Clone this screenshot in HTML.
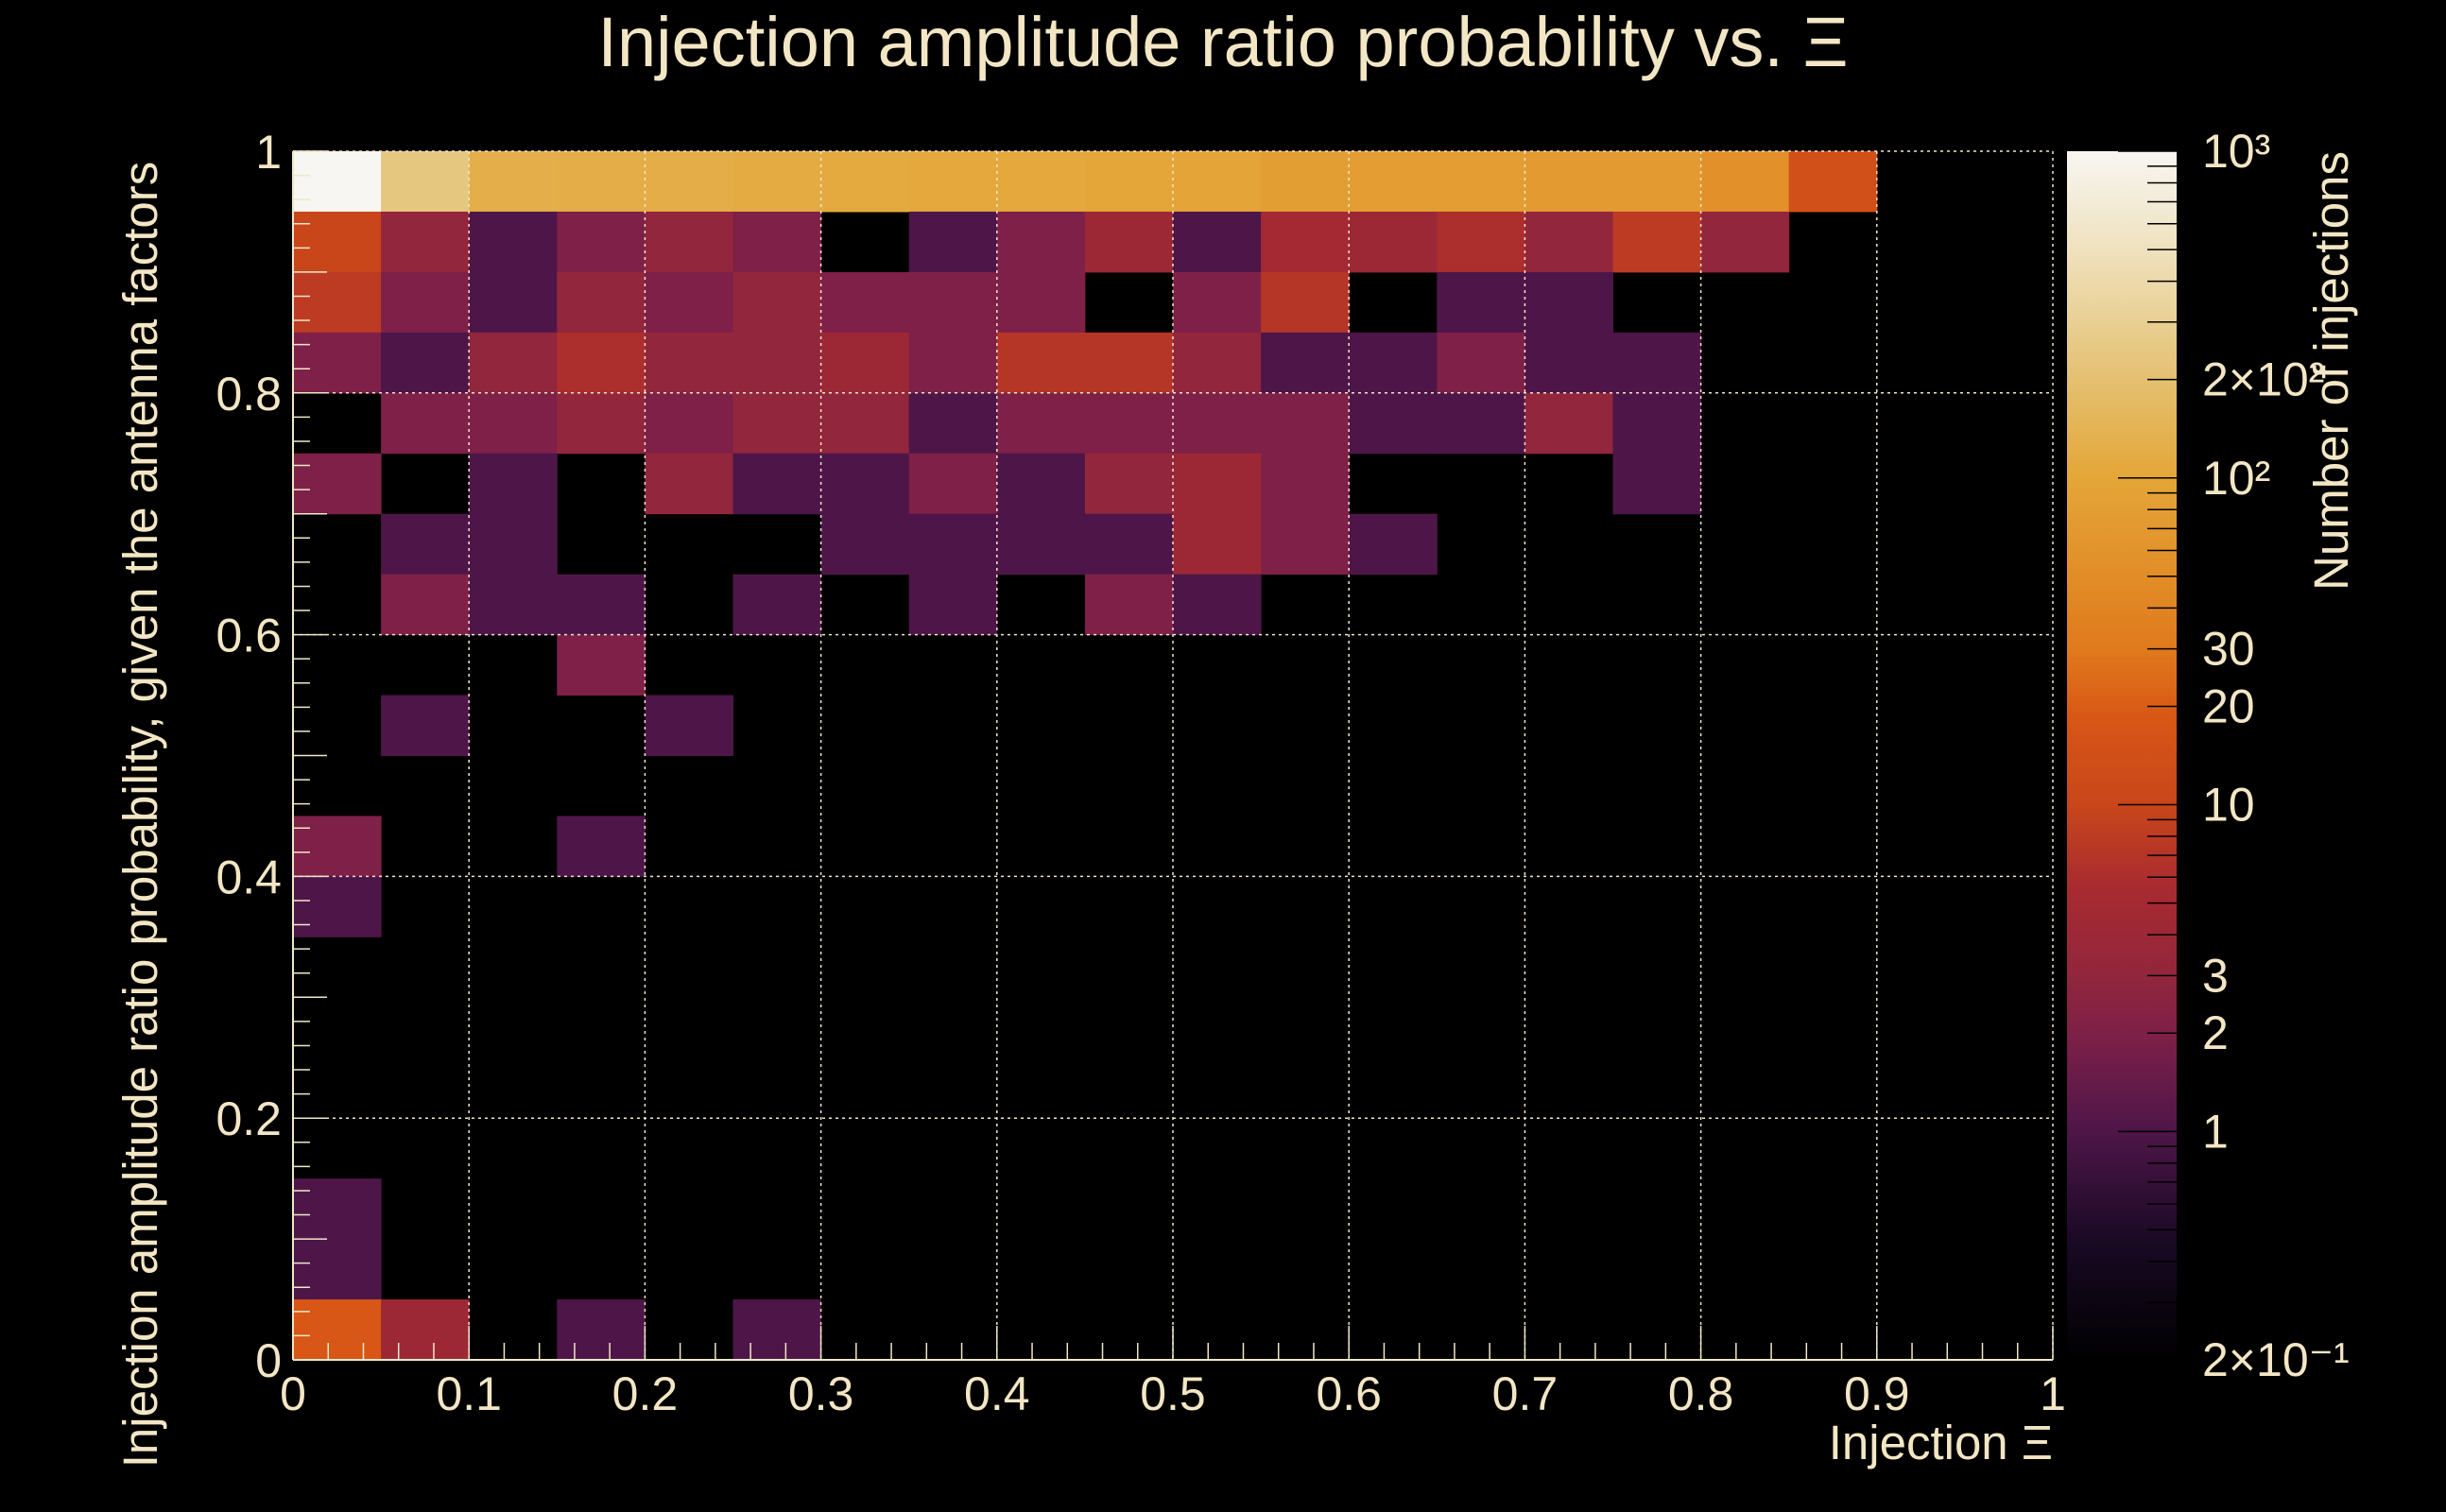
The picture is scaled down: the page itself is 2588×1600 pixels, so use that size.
<!DOCTYPE html>
<html><head><meta charset="utf-8"><style>
html,body{margin:0;padding:0;background:#000;}
svg{display:block;font-family:"Liberation Sans",sans-serif;}
</style></head><body>
<svg id="chart" width="2588" height="1600" xmlns="http://www.w3.org/2000/svg">
<rect width="2588" height="1600" fill="#000"/>
<text x="1294" y="70" text-anchor="middle" font-size="74" fill="#f3e6c4">Injection amplitude ratio probability vs.  Ξ</text>
<text transform="translate(166,862) rotate(-90)" text-anchor="middle" font-size="51" fill="#f3e6c4">Injection amplitude ratio probability, given the antenna factors</text>
<text x="2172" y="1544" text-anchor="end" font-size="51" fill="#f3e6c4">Injection Ξ</text>
<text transform="translate(2484,160) rotate(-90)" text-anchor="end" font-size="51" fill="#f3e6c4">Number of injections</text>
<g id="cells"></g>
<g id="grid"></g>
<g id="axes"></g>
<g id="cbar"></g>
</svg>
<script>
// rows listed from top (y 0.95-1.00) down to bottom (0.00-0.05); 20 columns of 0.05 in x
const rowsTopDown = [
 [1000,240,125,120,120,115,110,105,105,100,95,80,78,78,75,72,55,14,0,0],
 [10,3,1,2,3,2,0,1,2,4,1,5,4,6,3,8,3,0,0,0],
 [8,2,1,3,2,3,2,2,2,0,2,7,0,1,1,0,0,0,0,0],
 [2,1,3,6,3,3,4,2,7,7,3,1,1,2,1,1,0,0,0,0],
 [0,2,2,3,2,3,3,1,2,2,2,2,1,1,3,1,0,0,0,0],
 [2,0,1,0,3,1,1,2,1,3,4,2,0,0,0,1,0,0,0,0],
 [0,1,1,0,0,0,1,1,1,1,4,2,1,0,0,0,0,0,0,0],
 [0,2,1,1,0,1,0,1,0,2,1,0,0,0,0,0,0,0,0,0],
 [0,0,0,2,0,0,0,0,0,0,0,0,0,0,0,0,0,0,0,0],
 [0,1,0,0,1,0,0,0,0,0,0,0,0,0,0,0,0,0,0,0],
 [0,0,0,0,0,0,0,0,0,0,0,0,0,0,0,0,0,0,0,0],
 [2,0,0,1,0,0,0,0,0,0,0,0,0,0,0,0,0,0,0,0],
 [1,0,0,0,0,0,0,0,0,0,0,0,0,0,0,0,0,0,0,0],
 [0,0,0,0,0,0,0,0,0,0,0,0,0,0,0,0,0,0,0,0],
 [0,0,0,0,0,0,0,0,0,0,0,0,0,0,0,0,0,0,0,0],
 [0,0,0,0,0,0,0,0,0,0,0,0,0,0,0,0,0,0,0,0],
 [0,0,0,0,0,0,0,0,0,0,0,0,0,0,0,0,0,0,0,0],
 [1,0,0,0,0,0,0,0,0,0,0,0,0,0,0,0,0,0,0,0],
 [1,0,0,0,0,0,0,0,0,0,0,0,0,0,0,0,0,0,0,0],
 [18,4,0,1,0,1,0,0,0,0,0,0,0,0,0,0,0,0,0,0]
];
const xTickLabels = ["0","0.1","0.2","0.3","0.4","0.5","0.6","0.7","0.8","0.9","1"];
const yTickLabels = ["0","0.2","0.4","0.6","0.8","1"];
const zTickValues = [0.2,1,2,3,10,20,30,100,200,1000];
const zTickLabels = ["2×10⁻¹","1","2","3","10","20","30","10²","2×10²","10³"];
const binW = 0.05, binH = 0.05, zMin = 0.2, zMax = 1000;

const NS="http://www.w3.org/2000/svg";
const L=310,R=2172,T=160,B=1439;
const sx=v=>L+(R-L)*v, sy=v=>B-(B-T)*v;
const zf=v=>Math.log(v/zMin)/Math.log(zMax/zMin);
const stops=[[0,[0,0,0]],[0.1,[26,10,37]],[0.189,[78,22,72]],[0.27,[126,32,72]],[0.318,[146,38,60]],[0.39,[168,42,48]],[0.459,[200,70,26]],[0.53,[216,86,22]],[0.588,[224,122,28]],[0.73,[228,166,56]],[0.81,[228,192,112]],[0.92,[239,226,191]],[1,[248,246,242]]];
function col(f){f=Math.max(0,Math.min(1,f));for(let i=1;i<stops.length;i++){if(f<=stops[i][0]){const a=stops[i-1],b=stops[i],t=(f-a[0])/(b[0]-a[0]);return "rgb("+a[1].map((c,k)=>Math.round(c+(b[1][k]-c)*t)).join(",")+")";}}return "rgb(248,246,242)";}
function mk(tag,attrs,parent){const e=document.createElementNS(NS,tag);for(const k in attrs)e.setAttribute(k,attrs[k]);parent.appendChild(e);return e;}

const cells=document.getElementById('cells');
const nRows=rowsTopDown.length;
rowsTopDown.forEach((row,ri)=>{
  const yi=nRows-1-ri;
  row.forEach((v,xi)=>{
    if(v<=0)return;
    const x0=sx(xi*binW),x1=sx((xi+1)*binW),y0=sy((yi+1)*binH),y1=sy(yi*binH);
    const r=mk('rect',{x:x0,y:y0,width:x1-x0+0.5,height:y1-y0+0.5,fill:col(zf(v))},cells);
    
    
  });
});

const grid=document.getElementById('grid');
const C="#f0e6c8";
xTickLabels.forEach((t,i)=>{const v=i/(xTickLabels.length-1);
  const l=mk('line',{x1:sx(v),x2:sx(v),y1:T,y2:B,stroke:C,'stroke-width':1.5,'stroke-dasharray':'3,4'},grid);
  
  });
yTickLabels.forEach((t,i)=>{const v=i/(yTickLabels.length-1);
  const l=mk('line',{x1:L,x2:R,y1:sy(v),y2:sy(v),stroke:C,'stroke-width':1.5,'stroke-dasharray':'3,4'},grid);
  
  });

const ax=document.getElementById('axes');
mk('line',{x1:L,x2:R,y1:B,y2:B,stroke:C,'stroke-width':2},ax);
mk('line',{x1:L,x2:L,y1:T,y2:B,stroke:C,'stroke-width':2},ax);
for(let i=0;i<=50;i++){const v=i/50,len=(i%5==0)?36:18;
  mk('line',{x1:sx(v),x2:sx(v),y1:B,y2:B-len,stroke:C,'stroke-width':1.5},ax);}
for(let i=0;i<=50;i++){const v=i/50,len=(i%5==0)?36:18;
  mk('line',{x1:L,x2:L+len,y1:sy(v),y2:sy(v),stroke:C,'stroke-width':1.5},ax);}
xTickLabels.forEach((t,i)=>{const v=i/(xTickLabels.length-1);
  const e=mk('text',{x:sx(v),y:1492,'text-anchor':'middle','font-size':50,fill:'#f3e6c4'},ax);e.textContent=t;
  
  });
yTickLabels.forEach((t,i)=>{const v=i/(yTickLabels.length-1);
  const e=mk('text',{x:298,y:sy(v)+18,'text-anchor':'end','font-size':50,fill:'#f3e6c4'},ax);e.textContent=t;
  
  });

const cb=document.getElementById('cbar');
const CX0=2187,CX1=2303;
const defs=mk('defs',{},cb);
const g=mk('linearGradient',{id:'cg',x1:0,y1:1,x2:0,y2:0},defs);
stops.forEach(s=>mk('stop',{offset:s[0],'stop-color':col(s[0])},g));
mk('rect',{x:CX0,y:T,width:CX1-CX0,height:B-T,fill:'url(#cg)'},cb);
const cy=v=>B-(B-T)*zf(v);
[0.3,0.4,0.5,0.6,0.7,0.8,0.9,1,2,3,4,5,6,7,8,9,10,20,30,40,50,60,70,80,90,100,200,300,400,500,600,700,800,900,1000].forEach(v=>{
  const major=(v===1||v===10||v===100||v===1000);
  mk('line',{x1:major?CX1-62:CX1-31,x2:CX1,y1:cy(v),y2:cy(v),stroke:'#000','stroke-width':1.5},cb);});
zTickValues.forEach((v,i)=>{
  const e=mk('text',{x:2330,y:cy(v)+17,'font-size':50,fill:'#f3e6c4'},cb);e.textContent=zTickLabels[i];
  
  });
</script>
</body></html>
